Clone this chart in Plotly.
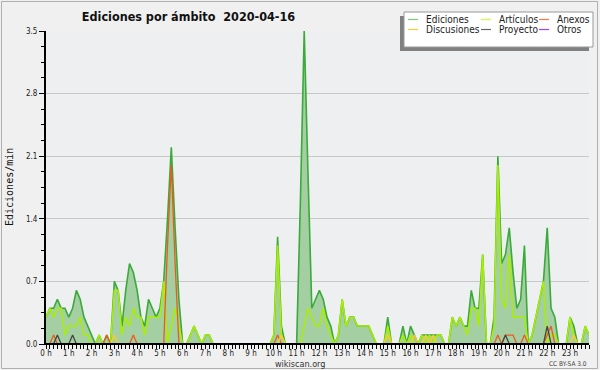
import plotly.graph_objects as go

# 10-minute bins over the day (144 points), values in edits/min
hours = [i / 6 for i in range(144)]

ediciones = [
    0.3, 0.4, 0.4, 0.5, 0.4, 0.4,   # 0 h
    0.3, 0.4, 0.6, 0.5, 0.3, 0.2,   # 1 h
    0.1, 0.0, 0.1, 0.0, 0.1, 0.0,   # 2 h
    0.7, 0.6, 0.2, 0.6, 0.9, 0.8,   # 3 h
    0.6, 0.3, 0.2, 0.5, 0.4, 0.3,   # 4 h
    0.4, 0.7, 1.4, 2.2, 1.3, 0.5,   # 5 h
    0.0, 0.0, 0.1, 0.2, 0.1, 0.0,   # 6 h
    0.1, 0.1, 0.0, 0.0, 0.0, 0.0,   # 7 h
    0.0, 0.0, 0.0, 0.0, 0.0, 0.0,   # 8 h
    0.0, 0.0, 0.0, 0.0, 0.0, 0.0,   # 9 h
    0.1, 1.2, 0.2, 0.0, 0.0, 0.0,   # 10 h
    0.0, 1.6, 3.5, 1.9, 0.4, 0.5,   # 11 h
    0.6, 0.5, 0.3, 0.2, 0.0, 0.1,   # 12 h
    0.5, 0.2, 0.3, 0.3, 0.2, 0.2,   # 13 h
    0.2, 0.2, 0.1, 0.0, 0.0, 0.0,   # 14 h
    0.3, 0.0, 0.0, 0.0, 0.2, 0.0,   # 15 h
    0.2, 0.1, 0.0, 0.1, 0.1, 0.1,   # 16 h
    0.1, 0.1, 0.1, 0.0, 0.0, 0.3,   # 17 h
    0.2, 0.3, 0.2, 0.2, 0.6, 0.4,   # 18 h
    0.4, 1.0, 0.0, 0.0, 0.3, 2.1,   # 19 h
    0.9, 1.0, 1.3, 0.8, 0.4, 0.5,   # 20 h
    1.1, 0.0, 0.1, 0.3, 0.5, 0.7,   # 21 h
    1.3, 0.4, 0.3, 0.0, 0.0, 0.0,   # 22 h
    0.3, 0.2, 0.0, 0.0, 0.2, 0.1,   # 23 h
]

articulos = [
    0.3, 0.4, 0.3, 0.4, 0.4, 0.1,
    0.2, 0.2, 0.2, 0.3, 0.1, 0.1,
    0.0, 0.0, 0.1, 0.0, 0.0, 0.0,
    0.6, 0.6, 0.1, 0.3, 0.2, 0.4,
    0.3, 0.3, 0.1, 0.3, 0.3, 0.3,
    0.3, 0.7, 0.0, 0.2, 0.4, 0.2,
    0.0, 0.0, 0.1, 0.2, 0.1, 0.0,
    0.1, 0.1, 0.0, 0.0, 0.0, 0.0,
    0.0, 0.0, 0.0, 0.0, 0.0, 0.0,
    0.0, 0.0, 0.0, 0.0, 0.0, 0.0,
    0.1, 1.1, 0.1, 0.0, 0.0, 0.0,
    0.0, 0.0, 0.2, 0.4, 0.3, 0.2,
    0.2, 0.4, 0.2, 0.1, 0.0, 0.1,
    0.5, 0.2, 0.3, 0.3, 0.2, 0.2,
    0.2, 0.2, 0.1, 0.0, 0.0, 0.0,
    0.2, 0.0, 0.0, 0.0, 0.1, 0.0,
    0.1, 0.0, 0.0, 0.1, 0.0, 0.1,
    0.0, 0.1, 0.1, 0.0, 0.0, 0.3,
    0.2, 0.3, 0.2, 0.1, 0.4, 0.4,
    0.2, 1.0, 0.0, 0.0, 0.2, 2.0,
    0.5, 0.4, 1.0, 0.3, 0.3, 0.3,
    0.3, 0.0, 0.1, 0.3, 0.5, 0.7,
    0.0, 0.1, 0.1, 0.0, 0.0, 0.0,
    0.3, 0.1, 0.0, 0.0, 0.2, 0.1,
]

# sparse series: {bin index: value}
anexos_pts = {2: 0.1, 16: 0.1, 23: 0.1, 32: 1.1, 33: 2.0, 34: 0.9, 61: 0.1,
              119: 0.1, 121: 0.1, 122: 0.1, 123: 0.1, 126: 0.1, 132: 0.1, 133: 0.2}
discusiones_pts = {18: 0.1, 62: 0.1, 90: 0.1, 97: 0.1, 100: 0.1, 102: 0.1, 139: 0.1}
proyecto_pts = {3: 0.1, 7: 0.1, 121: 0.1, 132: 0.2}
otros_pts = {}

anexos = [anexos_pts.get(i, 0.0) for i in range(144)]
discusiones = [discusiones_pts.get(i, 0.0) for i in range(144)]
proyecto = [proyecto_pts.get(i, 0.0) for i in range(144)]
otros = [otros_pts.get(i, 0.0) for i in range(144)]

hour_ticks = list(range(24))
hour_labels = [f"{h} h" for h in hour_ticks]
y_ticks = [0, 0.7, 1.4, 2.1, 2.8, 3.5]
y_labels = ["0.0", "0.7", "1.4", "2.1", "2.8", "3.5"]

series = [
    ("Ediciones", ediciones, "#3aaa3a", 1.6),
    ("Artículos", articulos, "#aaee00", 1.5),
    ("Anexos", anexos, "#ee5a1e", 1.3),
    ("Discusiones", discusiones, "#ffcc22", 1.3),
    ("Proyecto", proyecto, "#444444", 1.3),
    ("Otros", otros, "#9933ff", 1.3),
]
legend_colors = {"Ediciones": "#77cc77", "Artículos": "#ccff44", "Anexos": "#ff7744",
                 "Discusiones": "#ffcc33", "Proyecto": "#666666", "Otros": "#9944ff"}

W, H = 600, 370
L, R, T, B = 46, 11, 31, 26
PW, PH = W - L - R, H - T - B


def px(xp):
    return (xp - L) / PW


def py(yp):
    return (H - B - yp) / PH


fig = go.Figure()
for name, vals, color, width in series:
    kw = {}
    if name == "Ediciones":
        kw = dict(fill="tozeroy", fillcolor="#a3cfa3")
    fig.add_trace(go.Scatter(x=hours, y=vals, mode="lines", name=name,
                             line=dict(color=color, width=width),
                             showlegend=False, hoverinfo="skip", **kw))

font_c = "DejaVu Sans Condensed"

shapes = [
    # outer frame
    dict(type="rect", xref="paper", yref="paper", x0=px(1.5), x1=px(597.5),
         y0=py(368.5), y1=py(1.5), line=dict(color="#b0b0b0", width=1), layer="below"),
    # x axis baseline drawn above the traces
    dict(type="line", xref="paper", yref="paper", x0=px(44), x1=1, y0=0, y1=0,
         line=dict(color="black", width=2), layer="above"),
    # legend shadow and box
    dict(type="rect", xref="paper", yref="paper", x0=px(400), x1=px(589),
         y0=py(51), y1=py(16), line=dict(width=0), fillcolor="#808080", layer="above"),
    dict(type="rect", xref="paper", yref="paper", x0=px(404), x1=px(593),
         y0=py(47), y1=py(12), line=dict(color="#999999", width=1), fillcolor="white",
         layer="above"),
]
annotations = []
col_x = [408, 481, 539]
col_text_x = [424, 497, 555]
row_y = [19.5, 29.5]
for k, (name, _, _, _) in enumerate(series):
    r, c = divmod(k, 3)
    shapes.append(dict(type="line", xref="paper", yref="paper",
                       x0=px(col_x[c]), x1=px(col_x[c] + 10),
                       y0=py(row_y[r]), y1=py(row_y[r]),
                       line=dict(color=legend_colors[name], width=1.2), layer="above"))
    annotations.append(dict(text=name, xref="paper", yref="paper",
                            x=px(col_text_x[c]), y=py(row_y[r]), xanchor="left",
                            yanchor="middle", showarrow=False,
                            font=dict(family=font_c, size=10, color="#222222")))

annotations += [
    dict(text="Ediciones/min", xref="paper", yref="paper", x=px(9.5), y=0.5,
         textangle=-90, showarrow=False, xanchor="center", yanchor="middle",
         font=dict(family="DejaVu Sans Mono", size=10, color="#111111")),
    dict(text="wikiscan.org", xref="paper", yref="paper", x=px(300), y=py(363.5),
         showarrow=False, xanchor="center", yanchor="middle",
         font=dict(family=font_c, size=9, color="#333333")),
    dict(text="CC BY-SA 3.0", xref="paper", yref="paper", x=px(589), y=py(364),
         showarrow=False, xanchor="right", yanchor="middle",
         font=dict(family=font_c, size=6.5, color="#444444")),
]

fig.update_layout(
    width=W, height=H,
    margin=dict(l=L, r=R, t=T, b=B),
    paper_bgcolor="#f0f0f0",
    plot_bgcolor="#eeeff1",
    title=dict(text="Ediciones por ámbito  2020-04-16", x=188.5 / W, xanchor="center",
               y=1 - 16.5 / H, yanchor="middle",
               font=dict(family=font_c, size=12.5, color="#111111", weight="bold")),
    showlegend=False,
    shapes=shapes,
    annotations=annotations,
    xaxis=dict(range=[0, 143 / 6], tickmode="array", tickvals=hour_ticks,
               ticktext=hour_labels, ticks="outside", ticklen=4, tickwidth=1,
               tickcolor="black", showline=False,
               showgrid=False, zeroline=False, layer="above traces",
               ticklabelstandoff=-3,
               tickfont=dict(family=font_c, size=8, color="#222222"),
               minor=dict(tickmode="array", tickvals=[i / 6 for i in range(144)],
                          ticks="outside", ticklen=4, tickwidth=1, tickcolor="black",
                          showgrid=False),
               fixedrange=True),
    yaxis=dict(range=[0, 3.5], tickmode="array", tickvals=y_ticks, ticktext=y_labels,
               ticks="outside", ticklen=5, tickwidth=1, tickcolor="black",
               showline=True, linecolor="black", linewidth=2, showgrid=True,
               gridcolor="#c8c8c8", gridwidth=1, zeroline=False, layer="above traces",
               tickfont=dict(family=font_c, size=8, color="#222222"),
               minor=dict(tickmode="array",
                          tickvals=[0.175 * k for k in range(21)],
                          ticks="outside", ticklen=3, tickwidth=1, tickcolor="black",
                          showgrid=False),
               fixedrange=True),
)

fig.write_html("out.html", config={"displayModeBar": False},
               post_script="document.body.style.margin='0';document.body.style.padding='0';")
